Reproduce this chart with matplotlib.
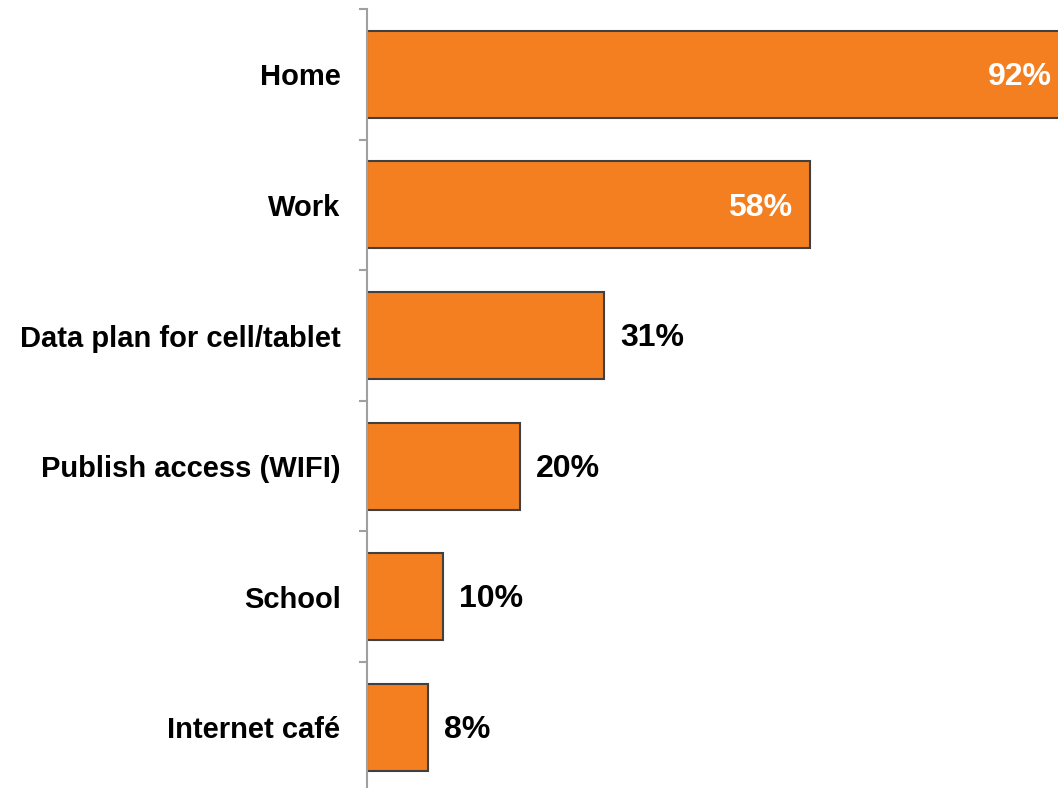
import matplotlib
import matplotlib.pyplot as plt
import numpy as np

matplotlib.use("Agg")

categories = ["Home", "Work", "Data plan for cell/tablet", "Publish access (WIFI)", "School", "Internet café"]
values = [92, 58, 31, 20, 10, 8]
inside_labels = [True, True, False, False, False, False]

BAR = "#F47F20"
EDGE = "#404040"
AXIS = "#A0A0A0"

plt.rcParams["font.family"] = ["Liberation Sans", "DejaVu Sans"]

fig = plt.figure(figsize=(10.58, 7.88), dpi=100)
ax = fig.add_axes([367 / 1058, -4.6 / 788, 691 / 1058, 783.6 / 788])

y = np.arange(len(categories))
ax.barh(y, values, height=0.667, color=BAR, edgecolor=EDGE, linewidth=1.5, zorder=2)

ax.set_ylim(len(categories) - 0.5, -0.5)
ax.set_xlim(0, 90.4)

for yi, v, inside in zip(y, values, inside_labels):
    if inside:
        ax.text(v - 2.35, yi + 0.02, f"{v}%", ha="right", va="center", color="white",
                fontsize=23, fontweight="bold", clip_on=False)
    else:
        ax.text(v + 2.1, yi + 0.02, f"{v}%", ha="left", va="center", color="black",
                fontsize=23, fontweight="bold")

ax.set_yticks(y)
ax.set_yticklabels(categories, fontsize=21, fontweight="bold")
ax.set_yticks(np.arange(-0.5, len(categories), 1.0), minor=True)
ax.tick_params(axis="y", which="major", length=0, pad=19)
ax.tick_params(axis="y", which="minor", length=6, width=1.5, color=AXIS, direction="out")
ax.set_xticks([])

for side in ("top", "right", "bottom"):
    ax.spines[side].set_visible(False)
ax.spines["left"].set_color(AXIS)
ax.spines["left"].set_linewidth(1.5)

fig.savefig("out.png", dpi=100)
